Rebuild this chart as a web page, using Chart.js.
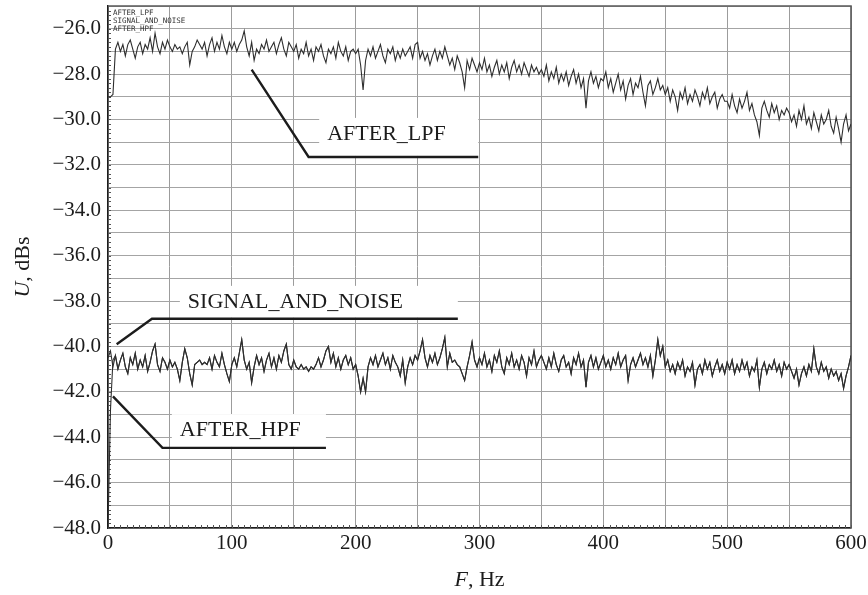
<!DOCTYPE html>
<html><head><meta charset="utf-8">
<script src="https://cdn.jsdelivr.net/npm/chart.js@4.4.0/dist/chart.umd.min.js"></script>
<style>html,body{margin:0;padding:0;background:#fff}#wrap{width:868px;height:595px}</style>
</head><body><div id="wrap"><canvas id="c" width="868" height="595"></canvas></div>
<script>
// Frequency grid, Hz
const freqs = [
0,2,4,6,8,10,12,14,16,18,20,22,24,26,28,30,32,34,36,38,40,42,44,46,48,
50,52,54,56,58,60,62,64,66,68,70,72,74,76,78,80,82,84,86,88,90,92,94,96,98,
100,102,104,106,108,110,112,114,116,118,120,122,124,126,128,130,132,134,136,138,140,142,144,146,148,
150,152,154,156,158,160,162,164,166,168,170,172,174,176,178,180,182,184,186,188,190,192,194,196,198,
200,202,204,206,208,210,212,214,216,218,220,222,224,226,228,230,232,234,236,238,240,242,244,246,248,
250,252,254,256,258,260,262,264,266,268,270,272,274,276,278,280,282,284,286,288,290,292,294,296,298,
300,302,304,306,308,310,312,314,316,318,320,322,324,326,328,330,332,334,336,338,340,342,344,346,348,
350,352,354,356,358,360,362,364,366,368,370,372,374,376,378,380,382,384,386,388,390,392,394,396,398,
400,402,404,406,408,410,412,414,416,418,420,422,424,426,428,430,432,434,436,438,440,442,444,446,448,
450,452,454,456,458,460,462,464,466,468,470,472,474,476,478,480,482,484,486,488,490,492,494,496,498,
500,502,504,506,508,510,512,514,516,518,520,522,524,526,528,530,532,534,536,538,540,542,544,546,548,
550,552,554,556,558,560,562,564,566,568,570,572,574,576,578,580,582,584,586,588,590,592,594,596,598,
600];

// AFTER_LPF, dBs
const afterLpf = [
-29.0,-29.0,-28.9,-26.9,-26.6, -27.0,-26.7,-27.2,-26.7,-26.5, -26.9,-27.3,-26.8,-26.6,-27.1, -26.7,-26.9,-26.4,-27.0,-26.2, -26.8,-27.1,-26.6,-26.9,-26.5,
-26.8,-27.0,-26.7,-26.9,-26.8, -27.1,-26.8,-26.6,-27.6,-27.0, -26.8,-26.5,-26.7,-26.9,-26.6, -27.2,-26.7,-26.4,-27.0,-26.6, -26.9,-26.3,-26.8,-27.1,-26.6,
-26.9,-26.6,-27.0,-26.7,-26.5, -26.1,-26.8,-27.2,-26.6,-27.4, -26.9,-27.1,-26.7,-26.9,-26.5, -27.0,-26.8,-26.6,-27.1,-26.7, -26.4,-26.9,-27.2,-26.6,-26.8,
-27.0,-26.7,-27.3,-26.9,-27.1, -26.6,-27.2,-26.9,-27.4,-26.8, -27.0,-26.7,-27.2,-27.5,-26.9, -27.1,-26.8,-27.3,-26.6,-27.0, -27.2,-26.8,-27.4,-27.0,-26.9,
-27.1,-26.9,-27.6,-28.7,-27.4, -26.9,-27.2,-26.8,-27.3,-27.0, -26.7,-27.2,-27.5,-26.9,-27.1, -26.8,-27.4,-27.0,-27.3,-26.9, -27.2,-27.0,-26.8,-27.3,-26.7,
-26.6,-27.3,-27.0,-27.4,-27.1, -27.6,-27.2,-26.9,-27.4,-27.0, -27.3,-26.8,-27.2,-27.6,-27.3, -27.8,-27.2,-27.5,-27.9,-28.6, -27.4,-27.8,-27.3,-27.6,-27.9,
-27.5,-27.8,-27.3,-27.9,-27.6, -28.1,-27.7,-27.4,-28.0,-27.6, -27.9,-27.5,-28.2,-27.7,-27.4, -27.9,-27.6,-28.0,-27.5,-27.8, -28.1,-27.6,-27.9,-27.7,-28.0,
-27.8,-28.1,-27.6,-28.3,-27.9, -28.2,-27.7,-28.4,-28.0,-28.3, -27.9,-28.5,-28.1,-27.8,-28.4, -28.0,-28.6,-28.2,-29.5,-28.3, -27.9,-28.4,-28.1,-28.6,-28.2,
-28.3,-27.9,-28.6,-28.2,-28.8, -28.4,-28.0,-28.7,-28.3,-29.1, -28.5,-28.2,-28.9,-28.4,-28.6, -28.1,-28.8,-29.4,-28.5,-28.3, -28.9,-28.6,-28.2,-28.7,-28.5,
-28.9,-28.6,-29.2,-28.7,-29.0, -29.6,-28.8,-29.1,-28.6,-29.3, -28.9,-29.2,-28.7,-29.0,-29.4, -28.8,-29.1,-28.6,-29.3,-29.0, -28.8,-29.5,-29.1,-28.9,-29.2,
-29.2,-29.5,-28.9,-29.4,-29.7, -29.1,-29.5,-29.2,-28.8,-29.6, -29.3,-29.8,-30.1,-30.7,-29.5, -29.2,-29.6,-29.9,-29.3,-29.7, -29.4,-30.0,-29.6,-29.8,-29.5,
-29.7,-30.1,-29.8,-30.3,-29.6, -30.0,-29.4,-30.2,-29.9,-30.4, -29.7,-30.1,-30.5,-29.8,-30.2, -30.0,-29.6,-30.3,-30.6,-29.9, -30.4,-31.0,-30.2,-29.8,-30.5,
-30.2];

// SIGNAL_AND_NOISE, dBs
const signalAndNoise = [
-40.5,-40.2,-40.9,-40.4,-41.0, -40.6,-40.3,-40.9,-41.2,-40.5, -40.8,-40.3,-41.0,-40.6,-40.9, -40.4,-41.1,-40.7,-40.2,-39.9, -40.8,-41.1,-40.5,-40.7,-41.0,
-40.6,-40.9,-40.7,-41.0,-41.5, -40.7,-40.1,-40.5,-41.2,-41.7, -40.8,-40.7,-40.6,-40.8,-40.7, -40.8,-40.5,-41.0,-40.4,-40.7, -40.9,-40.3,-40.8,-41.2,-41.55,
-40.8,-40.5,-40.9,-40.3,-39.7, -40.6,-41.0,-40.7,-41.6,-40.9, -40.4,-40.8,-40.5,-41.1,-40.6, -40.3,-40.9,-40.5,-41.0,-40.4, -40.7,-40.2,-39.9,-40.8,-41.0,
-40.6,-40.9,-41.0,-40.8,-41.0, -40.9,-41.1,-40.9,-41.0,-40.8, -40.5,-40.9,-40.6,-40.2,-40.0, -40.7,-40.3,-40.9,-40.5,-41.0, -40.6,-40.4,-40.8,-40.5,-41.0,
-40.8,-41.3,-42.0,-41.4,-42.0, -40.9,-40.5,-40.8,-40.4,-40.9, -40.6,-40.3,-40.8,-40.5,-41.0, -40.4,-40.7,-40.9,-41.3,-40.6, -41.6,-40.9,-40.5,-40.8,-40.4,
-40.6,-40.2,-39.7,-40.5,-40.9, -40.4,-40.7,-40.3,-40.8,-40.5, -40.1,-39.6,-40.9,-40.3,-40.7, -40.6,-40.8,-40.9,-41.2,-41.5, -40.9,-40.4,-39.8,-40.6,-40.9,
-40.5,-40.8,-40.3,-40.9,-40.6, -41.1,-40.4,-40.7,-40.2,-40.9, -41.2,-40.5,-40.8,-40.3,-40.9, -40.6,-41.0,-40.4,-40.7,-41.3, -40.5,-40.8,-40.2,-40.9,-40.6,
-40.4,-40.7,-41.0,-40.5,-40.9, -40.3,-40.8,-41.1,-40.6,-40.4, -40.9,-40.7,-41.2,-40.5,-40.8, -40.3,-40.9,-40.6,-41.8,-40.7, -40.4,-40.9,-40.5,-41.0,-40.7,
-40.4,-40.9,-40.6,-41.0,-40.5, -40.8,-40.3,-40.9,-40.6,-40.4, -41.5,-40.8,-40.5,-40.9,-40.6, -40.3,-40.8,-40.5,-40.9,-40.4, -41.3,-40.6,-39.7,-40.4,-40.0,
-40.9,-40.6,-41.1,-40.8,-41.2, -40.7,-41.0,-40.6,-41.3,-40.9, -41.1,-40.7,-41.7,-41.0,-40.8, -41.2,-40.6,-41.0,-40.7,-41.3, -40.9,-40.6,-41.1,-40.8,-41.2,
-40.7,-41.0,-40.6,-41.2,-40.8, -41.1,-40.6,-41.0,-40.7,-41.3, -40.9,-41.1,-40.6,-41.8,-41.0, -40.7,-41.2,-40.8,-41.0,-40.6, -41.1,-40.8,-41.3,-40.7,-41.0,
-40.8,-41.1,-41.4,-41.0,-41.7, -41.2,-40.9,-41.3,-40.8,-41.1, -40.1,-40.9,-41.2,-40.7,-41.1, -40.9,-41.4,-41.0,-41.3,-41.1, -41.5,-41.2,-41.85,-41.3,-40.9,
-40.4];

// AFTER_HPF, dBs: rise at the start, then coincides with SIGNAL_AND_NOISE
const afterHpfStart = [-48.0, -42.8, -40.6];
const afterHpf = afterHpfStart.concat(signalAndNoise.slice(afterHpfStart.length));

const seriesNames = ['AFTER_LPF', 'SIGNAL_AND_NOISE', 'AFTER_HPF'];

// Tick labels
const xLabelValues = [0, 100, 200, 300, 400, 500, 600];
const xLabels = ['0', '100', '200', '300', '400', '500', '600'];
const yLabelValues = [-48, -46, -44, -42, -40, -38, -36, -34, -32, -30, -28, -26];
const yLabels = ['\u221248.0','\u221246.0','\u221244.0','\u221242.0','\u221240.0','\u221238.0','\u221236.0','\u221234.0','\u221232.0','\u221230.0','\u221228.0','\u221226.0'];

// Callout annotations (data units): pointer path, text start, text baseline
const annotations = [
  { text: 'AFTER_LPF',        path: [[116, -27.8], [162, -31.65], [299, -31.65]],   textF: 177,  textDb: -30.9 },
  { text: 'SIGNAL_AND_NOISE', path: [[7, -39.9], [35.5, -38.78], [282.5, -38.78]],  textF: 64.5, textDb: -38.3 },
  { text: 'AFTER_HPF',        path: [[4, -42.2], [44, -44.47], [176, -44.47]],      textF: 58,   textDb: -43.95 }
];

const SERIF = '"Liberation Serif", "Times New Roman", serif';

function drawMixed(ctx, parts, cx, cy, size) {
  const widths = parts.map(p => { ctx.font = (p.i ? 'italic ' : '') + size + 'px ' + SERIF; return ctx.measureText(p.t).width; });
  const total = widths.reduce((a, b) => a + b, 0);
  let xx = cx - total / 2;
  parts.forEach((p, k) => { ctx.font = (p.i ? 'italic ' : '') + size + 'px ' + SERIF; ctx.fillText(p.t, xx, cy); xx += widths[k]; });
}

const decor = {
  id: 'decor',
  beforeDatasetsDraw(chart) {
    const { ctx, chartArea: a, scales: { x, y } } = chart;
    ctx.save();
    ctx.strokeStyle = '#555';
    ctx.lineWidth = 1;
    ctx.beginPath();
    for (let f = 0; f <= 600; f += 5) {
      const px = Math.round(x.getPixelForValue(f)) + 0.5;
      ctx.moveTo(px, a.bottom); ctx.lineTo(px, a.bottom - 3);
    }
    for (let v = -48; v <= -25.001; v += 0.2) {
      const py = Math.round(y.getPixelForValue(v)) + 0.5;
      ctx.moveTo(a.left, py); ctx.lineTo(a.left + 3, py);
    }
    ctx.stroke();
    ctx.strokeStyle = '#5a5a5a';
    ctx.lineWidth = 1.6;
    ctx.beginPath();
    ctx.moveTo(a.left, a.top); ctx.lineTo(a.right, a.top); ctx.lineTo(a.right, a.bottom);
    ctx.stroke();
    ctx.restore();
  },
  afterDatasetsDraw(chart) {
    const { ctx, scales: { x, y } } = chart;
    ctx.save();
    annotations.forEach(an => {
      const pts = an.path.map(p => [x.getPixelForValue(p[0]), y.getPixelForValue(p[1])]);
      const end = pts[pts.length - 1];
      const tx = x.getPixelForValue(an.textF);
      const ty = y.getPixelForValue(an.textDb);
      ctx.fillStyle = '#fff';
      ctx.fillRect(tx - 8, ty - 22, end[0] - tx + 8, end[1] - ty + 21);
      ctx.strokeStyle = '#1c1c1c';
      ctx.lineWidth = 2.4;
      ctx.lineJoin = 'miter';
      ctx.beginPath();
      pts.forEach((p, i) => i ? ctx.lineTo(p[0], p[1]) : ctx.moveTo(p[0], p[1]));
      ctx.stroke();
      ctx.fillStyle = '#1c1c1c';
      ctx.font = '22px ' + SERIF;
      ctx.textAlign = 'left';
      ctx.textBaseline = 'alphabetic';
      ctx.fillText(an.text, tx, ty);
    });
    // small legend
    ctx.fillStyle = '#333';
    ctx.font = '7.5px "DejaVu Sans Mono", monospace';
    ctx.textAlign = 'left';
    ctx.textBaseline = 'alphabetic';
    chart.data.datasets.forEach((d, i) => {
      ctx.fillText(d.label, chart.chartArea.left + 5, chart.chartArea.top + 8.5 + i * 8);
    });
    ctx.restore();
  },
  afterDraw(chart) {
    const { ctx, chartArea: a } = chart;
    ctx.save();
    ctx.fillStyle = '#1c1c1c';
    ctx.textBaseline = 'alphabetic';
    ctx.textAlign = 'left';
    drawMixed(ctx, [{ t: 'F', i: true }, { t: ', Hz', i: false }], (a.left + a.right) / 2, 586, 22);
    ctx.translate(29, (a.top + a.bottom) / 2);
    ctx.rotate(-Math.PI / 2);
    drawMixed(ctx, [{ t: 'U', i: true }, { t: ', dBs', i: false }], 0, 0, 22);
    ctx.restore();
  }
};

const mk = arr => freqs.map((f, i) => ({ x: f, y: arr[i] }));

new Chart(document.getElementById('c'), {
  type: 'line',
  data: {
    datasets: [
      { label: seriesNames[0], data: mk(afterLpf) },
      { label: seriesNames[1], data: mk(signalAndNoise) },
      { label: seriesNames[2], data: mk(afterHpf) }
    ].map(d => Object.assign(d, { borderColor: '#2e2e2e', borderWidth: 1.1, pointRadius: 0, tension: 0, fill: false }))
  },
  options: {
    responsive: false,
    devicePixelRatio: 1,
    animation: false,
    layout: { padding: { top: 6, right: 17, left: 0, bottom: 0 } },
    plugins: { legend: { display: false }, tooltip: { enabled: false }, title: { display: false } },
    scales: {
      x: {
        type: 'linear', min: 0, max: 600,
        afterFit: s => { s.height = 67; s.paddingLeft = 0; s.paddingRight = 0; },
        ticks: {
          stepSize: 50, autoSkip: false, maxRotation: 0, padding: 3, color: '#1c1c1c',
          font: { family: SERIF, size: 21 },
          callback: v => { const k = xLabelValues.indexOf(v); return k >= 0 ? xLabels[k] : ''; }
        },
        grid: { color: '#9c9c9c', lineWidth: 1, drawTicks: false },
        border: { color: '#1c1c1c', width: 1.5 }
      },
      y: {
        type: 'linear', min: -48, max: -25,
        afterFit: s => { s.width = 108; s.paddingTop = 0; s.paddingBottom = 0; },
        ticks: {
          stepSize: 1, autoSkip: false, padding: 7, color: '#1c1c1c',
          font: { family: SERIF, size: 21 },
          callback: v => { const k = yLabelValues.indexOf(Math.round(v)); return (k >= 0 && Math.abs(v - Math.round(v)) < 1e-6) ? yLabels[k] : ''; }
        },
        grid: { color: '#a4a4a4', lineWidth: 1, drawTicks: false },
        border: { color: '#1c1c1c', width: 1.5 }
      }
    }
  },
  plugins: [decor]
});
</script>
</body></html>
